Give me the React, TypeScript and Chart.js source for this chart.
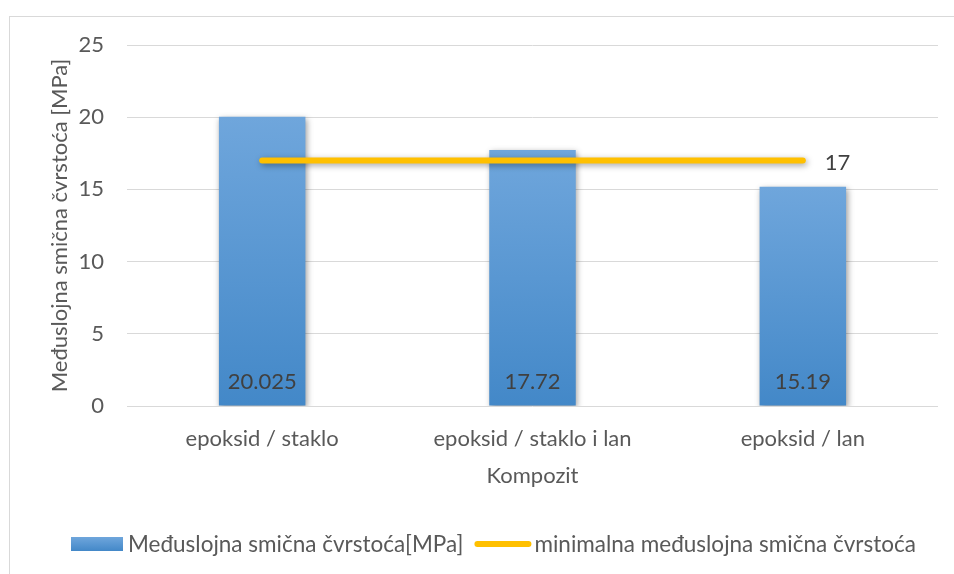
import React, { useEffect, useRef } from "react";
import { Chart, registerables } from "chart.js";

Chart.register(...registerables);

const categories = ["epoksid / staklo", "epoksid / staklo i lan", "epoksid / lan"];
const strengthValues = [20.025, 17.72, 15.19];
const strengthLabels = ["20.025", "17.72", "15.19"];
const minimumValues = [17, 17, 17];
const minimumLabel = "17";
const seriesNames = ["Međuslojna smična čvrstoća[MPa]", "minimalna međuslojna smična čvrstoća"];
const yTitle = "Međuslojna smična čvrstoća [MPa]";
const xTitle = "Kompozit";
const yMin = 0;
const yMax = 25;
const yStep = 5;

const FONT = "Lato";
const FS = 22;
const LEGEND_FS = 22.5;
const TEXT = "#595959";
const LABEL = "#404040";
const YELLOW = "#FFC000";

function barGradient(ctx: CanvasRenderingContext2D, top: number, bottom: number) {
  const g = ctx.createLinearGradient(0, top, 0, bottom);
  g.addColorStop(0, "#6FA6DC");
  g.addColorStop(1, "#4388C8");
  return g;
}

const shadowPlugin = {
  id: "shadowPlugin",
  beforeDatasetDraw(chart: any) {
    const ctx = chart.ctx;
    ctx.save();
    ctx.shadowColor = "rgba(0,0,0,0.38)";
    ctx.shadowBlur = 6;
    ctx.shadowOffsetX = 1.5;
    ctx.shadowOffsetY = 2;
  },
  afterDatasetDraw(chart: any) {
    chart.ctx.restore();
  },
};

const decorPlugin = {
  id: "decorPlugin",
  afterDraw(chart: any) {
    const ctx: CanvasRenderingContext2D = chart.ctx;
    const area = chart.chartArea;
    const ys = chart.scales.y;
    ctx.save();
    ctx.font = `${FS}px ${FONT}`;
    ctx.textBaseline = "middle";

    // bar value labels (inside base)
    const barMeta = chart.getDatasetMeta(1);
    ctx.fillStyle = LABEL;
    ctx.textAlign = "center";
    barMeta.data.forEach((el: any, i: number) => {
      ctx.fillText(strengthLabels[i], el.x, ys.getPixelForValue(0) - 24);
    });

    // line label at the last point
    const lineMeta = chart.getDatasetMeta(0);
    const last = lineMeta.data[lineMeta.data.length - 1];
    ctx.textAlign = "left";
    ctx.fillText(minimumLabel, last.x + 22, last.y + 2);

    // axis titles
    ctx.fillStyle = TEXT;
    ctx.textAlign = "center";
    ctx.fillText(xTitle, (area.left + area.right) / 2, 476);
    ctx.save();
    ctx.translate(60, (area.top + area.bottom) / 2);
    ctx.rotate(-Math.PI / 2);
    ctx.fillText(yTitle, 0, 0);
    ctx.restore();

    // legend
    ctx.font = `${LEGEND_FS}px ${FONT}`;
    const ly = 544;
    const w1 = ctx.measureText(seriesNames[0]).width;
    let x = 71;
    ctx.fillStyle = barGradient(ctx, ly - 7, ly + 7);
    ctx.fillRect(x, ly - 7, 52, 14);
    x += 57;
    ctx.fillStyle = TEXT;
    ctx.textAlign = "left";
    ctx.fillText(seriesNames[0], x, ly + 1);
    x += w1 + 11;
    ctx.strokeStyle = YELLOW;
    ctx.lineWidth = 6;
    ctx.lineCap = "round";
    ctx.beginPath();
    ctx.moveTo(x + 3, ly);
    ctx.lineTo(x + 54, ly);
    ctx.stroke();
    x += 60;
    ctx.fillText(seriesNames[1], x, ly + 1);
    ctx.restore();
  },
};

export default function App() {
  const ref = useRef<HTMLCanvasElement | null>(null);
  useEffect(() => {
    if (!ref.current) return;
    Chart.defaults.font.family = FONT;
    Chart.defaults.font.size = FS;
    Chart.defaults.color = TEXT;
    const chart = new Chart(ref.current, {
      type: "bar",
      data: {
        labels: categories,
        datasets: [
          {
            type: "line",
            label: seriesNames[1],
            data: minimumValues,
            borderColor: YELLOW,
            borderWidth: 6,
            borderCapStyle: "round",
            pointRadius: 0,
            pointHoverRadius: 0,
            fill: false,
            order: 1,
          } as any,
          {
            type: "bar",
            label: seriesNames[0],
            data: strengthValues,
            order: 2,
            barPercentage: 0.32,
            categoryPercentage: 1,
            backgroundColor: (c: any) => {
              const ch = c.chart;
              if (!ch.chartArea || c.type !== "data") return "#5B9BD5";
              const ys = ch.scales.y;
              return barGradient(ch.ctx, ys.getPixelForValue(c.raw), ys.getPixelForValue(0));
            },
            borderWidth: 0,
          } as any,
        ],
      },
      options: {
        animation: false,
        responsive: true,
        maintainAspectRatio: false,
        layout: { padding: { left: 0, top: 45, right: 16, bottom: 0 } },
        plugins: { legend: { display: false }, tooltip: { enabled: false } },
        scales: {
          x: {
            grid: { display: false, drawTicks: false },
            border: { display: false },
            ticks: { padding: 20, color: TEXT, font: { size: FS } },
            afterFit: (s: any) => {
              s.height = 168;
            },
          },
          y: {
            min: yMin,
            max: yMax,
            grid: { color: "#D9D9D9", lineWidth: 1, drawTicks: false },
            border: { display: false },
            ticks: { stepSize: yStep, padding: 23, color: TEXT, font: { size: FS } },
            afterFit: (s: any) => {
              s.width = 127;
            },
          },
        },
      },
      plugins: [shadowPlugin, decorPlugin],
    });
    return () => chart.destroy();
  }, []);
  return (
    <div style={{ position: "fixed", left: 0, top: 0, width: 954, height: 574, overflow: "hidden", background: "#fff" }}>
      <div
        style={{
          position: "absolute",
          left: 9,
          top: 16,
          width: 1000,
          height: 1000,
          border: "1px solid #D9D9D9",
        }}
      />
      <div style={{ position: "absolute", left: 0, top: 0, width: 954, height: 574 }}>
        <canvas ref={ref} />
      </div>
    </div>
  );
}
